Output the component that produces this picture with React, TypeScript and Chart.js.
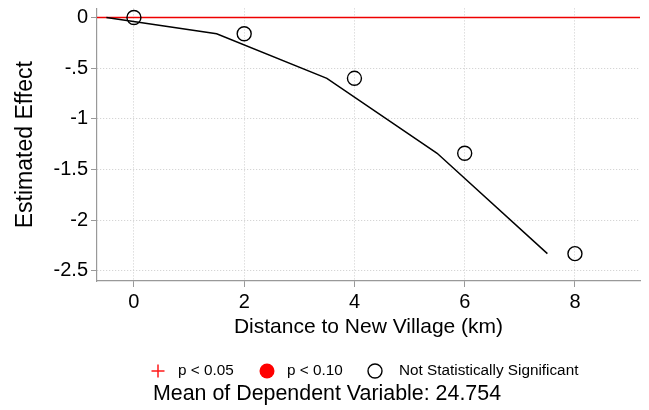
import React, { useEffect, useRef } from "react";
import { Chart, registerables } from "chart.js";

Chart.register(...registerables);

// ---- data ----
const distanceKm = [0, 2, 4, 6, 8];
const estimates = [0, -0.16, -0.6, -1.34, -2.33];
const fitX = [-0.5, 1.5, 3.5, 5.5, 7.5];
const fitY = [0, -0.16, -0.6, -1.34, -2.33];
const xTicks = [0, 2, 4, 6, 8];
const yTicks = [-2.5, -2, -1.5, -1, -0.5, 0];
const X_MIN = -0.67;
const X_MAX = 9.18;
const Y_MIN = -2.6;
const Y_MAX = 0.09;
const legendLabels = ["p < 0.05", "p < 0.10", "Not Statistically Significant"];
const noteText = "Mean of Dependent Variable: 24.754";

const FONT = "'Liberation Sans', Arial, Helvetica, sans-serif";

const fmt = (v: number) => {
  if (v === 0) return "0";
  return String(v).replace(/^(-?)0\./, "$1.");
};

const legendPlugin = {
  id: "stataLegend",
  afterDraw(chart: any) {
    const ctx = chart.ctx as CanvasRenderingContext2D;
    ctx.save();
    const y = 371;
    // red plus
    ctx.strokeStyle = "#ff1a1a";
    ctx.lineWidth = 1.5;
    ctx.beginPath();
    ctx.moveTo(151.5, y);
    ctx.lineTo(164.5, y);
    ctx.moveTo(158, y - 6.5);
    ctx.lineTo(158, y + 6.5);
    ctx.stroke();
    // filled red circle
    ctx.fillStyle = "#ff0000";
    ctx.beginPath();
    ctx.arc(267, y, 7.5, 0, Math.PI * 2);
    ctx.fill();
    // open circle
    ctx.strokeStyle = "#000";
    ctx.lineWidth = 1.4;
    ctx.beginPath();
    ctx.arc(375, y, 7, 0, Math.PI * 2);
    ctx.stroke();
    ctx.fillStyle = "#000";
    ctx.font = `15.3px ${FONT}`;
    ctx.textBaseline = "middle";
    ctx.textAlign = "left";
    ctx.fillText(legendLabels[0], 178, y);
    ctx.fillText(legendLabels[1], 287, y);
    ctx.fillText(legendLabels[2], 399, y);
    ctx.font = `21.4px ${FONT}`;
    ctx.fillText(noteText, 153, 394);
    ctx.restore();
  },
};

export default function App() {
  const ref = useRef<HTMLCanvasElement | null>(null);
  useEffect(() => {
    document.body.style.margin = "0";
    const canvas = ref.current!;
    Chart.defaults.font.family = FONT;
    Chart.defaults.color = "#000";
    const chart = new Chart(canvas, {
      type: "scatter",
      data: {
        datasets: [
          {
            type: "scatter",
            data: distanceKm.map((x, i) => ({ x, y: estimates[i] })),
            pointStyle: "circle",
            pointRadius: 7,
            pointBorderWidth: 1.4,
            pointBorderColor: "#000",
            pointBackgroundColor: "rgba(0,0,0,0)",
            order: 0,
          },
          {
            type: "line",
            data: fitX.map((x, i) => ({ x, y: fitY[i] })),
            borderColor: "#000",
            borderWidth: 1.5,
            pointRadius: 0,
            fill: false,
            tension: 0,
            order: 1,
          },
          {
            type: "line",
            data: [
              { x: X_MIN, y: 0 },
              { x: X_MAX, y: 0 },
            ],
            borderColor: "#ee0000",
            borderWidth: 1.5,
            pointRadius: 0,
            fill: false,
            order: 2,
          },
        ],
      },
      options: {
        animation: false,
        responsive: false,
        maintainAspectRatio: false,
        layout: { padding: { left: 0, right: 9, top: 8, bottom: 0 } },
        plugins: {
          legend: { display: false },
          tooltip: { enabled: false },
        },
        scales: {
          x: {
            type: "linear",
            min: X_MIN,
            max: X_MAX,
            afterBuildTicks: (s: any) => {
              s.ticks = xTicks.map((v) => ({ value: v }));
            },
            afterFit: (s: any) => {
              s.height = 129;
              s.paddingLeft = 0;
              s.paddingRight = 0;
            },
            ticks: {
              font: { size: 20 },
              color: "#000",
              padding: 3,
              maxRotation: 0,
              callback: (v: any) => fmt(Number(v)),
            },
            grid: {
              color: "#cccccc",
              lineWidth: 1,
              drawTicks: true,
              tickLength: 6,
              tickColor: "#999",
              tickWidth: 1,
              tickBorderDash: [],
            },
            border: { display: true, color: "#999", width: 1.2, dash: [1, 2] },
            title: {
              display: true,
              text: "Distance to New Village (km)",
              font: { size: 21 },
              color: "#000",
              padding: { top: 0, bottom: 70 },
            },
          },
          y: {
            type: "linear",
            min: Y_MIN,
            max: Y_MAX,
            afterBuildTicks: (s: any) => {
              s.ticks = yTicks.map((v) => ({ value: v }));
            },
            afterFit: (s: any) => {
              s.width = 97;
              s.paddingTop = 0;
              s.paddingBottom = 0;
            },
            ticks: {
              font: { size: 20 },
              color: "#000",
              padding: 3,
              callback: (v: any) => fmt(Number(v)),
            },
            grid: {
              color: (c: any) => (c.tick && c.tick.value === 0 ? "rgba(0,0,0,0)" : "#cccccc"),
              lineWidth: 1,
              drawTicks: true,
              tickLength: 6,
              tickColor: "#999",
              tickWidth: 1,
              tickBorderDash: [],
            },
            border: { display: true, color: "#999", width: 1.2, dash: [1, 2] },
            title: {
              display: true,
              text: "Estimated Effect",
              font: { size: 23 },
              color: "#000",
              padding: { top: 12, bottom: 0 },
            },
          },
        },
      },
      plugins: [legendPlugin],
    } as any);
    return () => chart.destroy();
  }, []);
  return (
    <div style={{ width: 649, height: 410 }}>
      <canvas ref={ref} width={649} height={410} style={{ display: "block" }} />
    </div>
  );
}
